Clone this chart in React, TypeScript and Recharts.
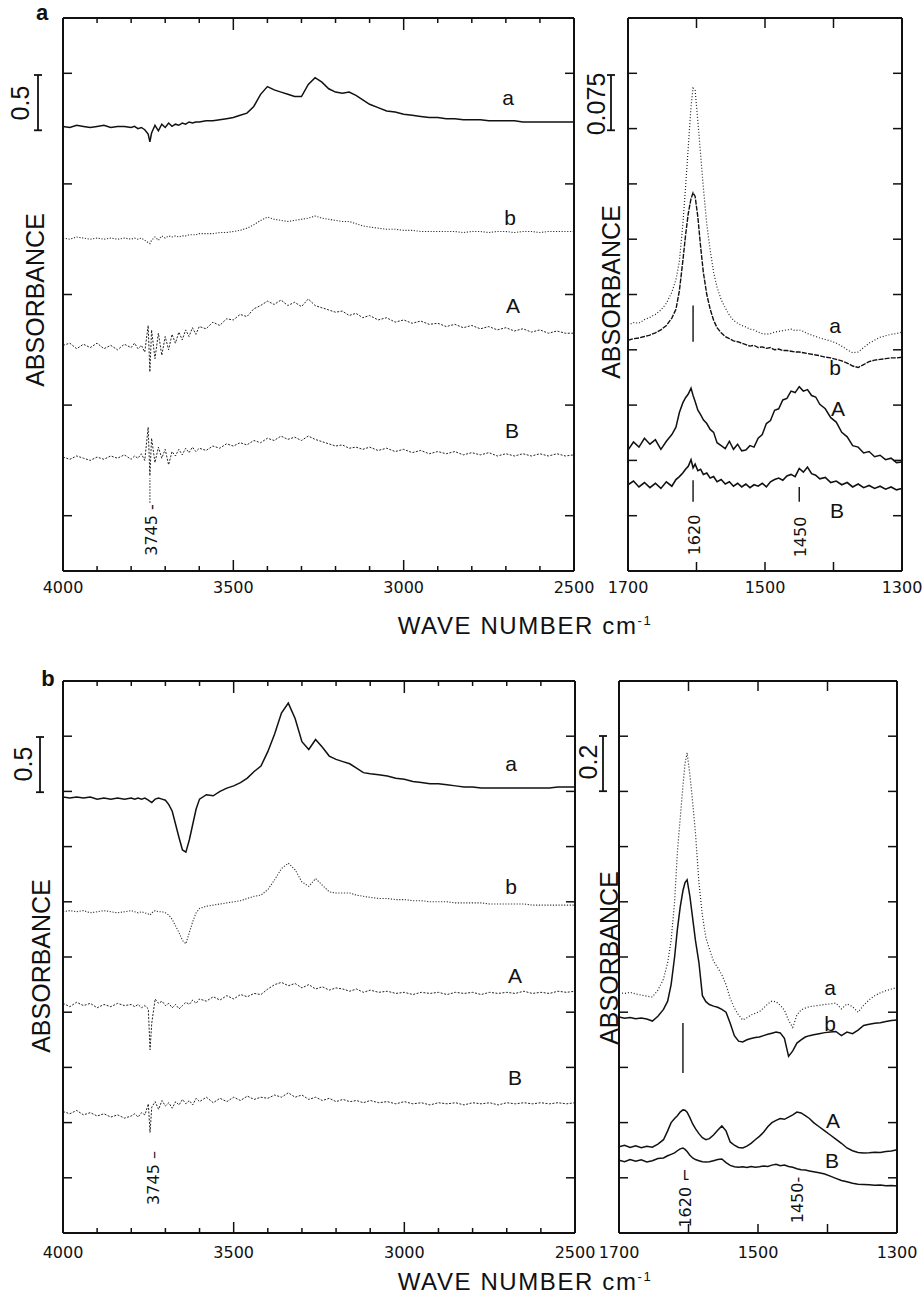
import React from 'react';
import { LineChart, Line, XAxis, YAxis, ReferenceLine } from 'recharts';

const W = 923;
const H = 1298;
const ink = '#111';

// ---- OH stretching region (4000-2500 cm-1), shared wave number grid ----
const wnOH = [
  4000, 3980, 3960, 3940, 3920, 3900, 3880, 3860, 3840, 3820,
  3800, 3790, 3780, 3770, 3760, 3750, 3745, 3740, 3730, 3720,
  3710, 3700, 3690, 3680, 3670, 3660, 3650, 3640, 3630, 3620,
  3610, 3600, 3580, 3560, 3540, 3520, 3500, 3480, 3460, 3440,
  3420, 3400, 3380, 3360, 3340, 3320, 3300, 3280, 3260, 3240,
  3220, 3200, 3180, 3160, 3140, 3120, 3100, 3075, 3050, 3025,
  3000, 2975, 2950, 2925, 2900, 2875, 2850, 2825, 2800, 2775,
  2750, 2725, 2700, 2675, 2650, 2625, 2600, 2575, 2550, 2525,
  2500,
];

// figure a, left panel (offset absorbance)
const oh1_a = [
  4.02, 4.01, 4.03, 4.02, 4.01, 4.02, 4.03, 4.01, 4.02, 4.02,
  4.01, 4.02, 4.0, 4.01, 3.99, 3.95, 3.88, 3.96, 4.03, 3.98,
  4.04, 4.01, 4.05, 4.02, 4.04, 4.03, 4.05, 4.04, 4.06, 4.05,
  4.06, 4.06, 4.07, 4.07, 4.08, 4.09, 4.1, 4.12, 4.14, 4.2,
  4.31, 4.38, 4.35, 4.33, 4.31, 4.29, 4.29, 4.4, 4.46, 4.42,
  4.36, 4.33, 4.32, 4.33, 4.3, 4.26, 4.22, 4.19, 4.16, 4.15,
  4.13, 4.12, 4.11, 4.1, 4.1, 4.09, 4.09, 4.08, 4.08, 4.08,
  4.07, 4.07, 4.07, 4.07, 4.06, 4.06, 4.06, 4.06, 4.06, 4.06,
  4.06,
];
const oh1_b = [
  3.01, 3.0, 3.02, 3.01, 3.0, 3.01, 3.0, 3.01, 3.0, 3.01,
  3.0, 3.01, 3.0, 3.01, 2.99, 2.97, 2.96, 2.99, 3.02, 2.99,
  3.03, 3.01, 3.03, 3.02, 3.03, 3.02, 3.03, 3.03, 3.04, 3.04,
  3.04, 3.05, 3.05, 3.05, 3.06, 3.06, 3.07, 3.08, 3.1, 3.13,
  3.17, 3.2, 3.18, 3.17, 3.16, 3.17, 3.18, 3.19, 3.21, 3.19,
  3.18, 3.17, 3.16, 3.16, 3.14, 3.12, 3.11, 3.1, 3.09, 3.09,
  3.08, 3.08, 3.07, 3.07, 3.07, 3.07, 3.07, 3.06, 3.07, 3.07,
  3.06, 3.07, 3.07, 3.06, 3.07, 3.07, 3.06, 3.07, 3.07, 3.07,
  3.07,
];
const oh1_A = [
  2.04, 2.06, 2.01, 2.05, 2.02, 2.06, 2.01, 2.04, 2.0, 2.05,
  2.02, 2.06, 2.01, 2.04, 1.98, 2.22, 1.8, 2.18, 1.92, 2.15,
  1.95, 2.12, 2.0, 2.14, 2.06, 2.16, 2.09, 2.18, 2.12, 2.2,
  2.14, 2.21, 2.19, 2.25, 2.22, 2.28, 2.27, 2.32, 2.3, 2.37,
  2.4, 2.44, 2.41, 2.45, 2.4, 2.43, 2.39, 2.46, 2.4, 2.38,
  2.36, 2.34, 2.35, 2.31, 2.33, 2.29, 2.31, 2.27, 2.29, 2.25,
  2.27, 2.24, 2.26, 2.23, 2.24, 2.21, 2.23, 2.2, 2.22, 2.19,
  2.21, 2.18, 2.2, 2.17, 2.19, 2.16, 2.18, 2.15, 2.17, 2.15,
  2.15,
];
const oh1_B = [
  1.03, 1.01, 1.04, 1.02, 1.0, 1.03, 1.01, 1.04, 1.02, 1.05,
  1.01, 1.04, 1.02, 1.06, 1.0, 1.3, 0.86, 1.2, 0.98, 1.12,
  1.02, 1.1, 0.96, 1.08, 1.04, 1.1, 1.05, 1.11, 1.07, 1.12,
  1.08, 1.11, 1.09, 1.13, 1.11, 1.15, 1.13, 1.16, 1.14, 1.18,
  1.16, 1.2, 1.18, 1.22, 1.19, 1.21, 1.18, 1.22, 1.19, 1.17,
  1.15, 1.13, 1.14, 1.11, 1.12, 1.1, 1.12, 1.09, 1.11, 1.08,
  1.1, 1.07, 1.09, 1.06, 1.08, 1.06, 1.08, 1.05, 1.07, 1.05,
  1.07, 1.04, 1.06, 1.04, 1.06, 1.04, 1.06, 1.04, 1.06, 1.04,
  1.05,
];

// figure b, left panel
const oh2_a = [
  3.95, 3.94, 3.95, 3.94, 3.95, 3.93, 3.94, 3.93, 3.94, 3.93,
  3.94, 3.93, 3.94, 3.93, 3.94, 3.92, 3.91, 3.9, 3.93, 3.94,
  3.93, 3.92, 3.88, 3.82, 3.7, 3.58, 3.47, 3.45, 3.56, 3.7,
  3.84, 3.93, 3.97, 3.96, 4.0, 4.03, 4.05, 4.08, 4.12, 4.18,
  4.23, 4.36, 4.52, 4.71, 4.8, 4.66, 4.45, 4.38, 4.47, 4.4,
  4.32, 4.29, 4.27, 4.25, 4.21, 4.17, 4.16, 4.15, 4.14, 4.12,
  4.11, 4.09, 4.08, 4.07, 4.07, 4.06, 4.05, 4.04, 4.04, 4.03,
  4.03, 4.03, 4.03, 4.03, 4.03, 4.03, 4.03, 4.03, 4.04, 4.04,
  4.04,
];
const oh2_b = [
  2.91, 2.92, 2.91, 2.92, 2.9, 2.91, 2.92, 2.91, 2.9, 2.91,
  2.92, 2.91, 2.9, 2.91, 2.9, 2.89, 2.88, 2.9, 2.92, 2.91,
  2.91, 2.9, 2.88, 2.84, 2.78, 2.72, 2.65, 2.62, 2.72, 2.82,
  2.9, 2.94, 2.96, 2.97, 2.98, 2.99, 3.0, 3.01, 3.03, 3.05,
  3.06, 3.11, 3.2, 3.3, 3.35, 3.29, 3.18, 3.14, 3.21, 3.15,
  3.09, 3.08, 3.08, 3.08, 3.06, 3.05, 3.04, 3.03, 3.03, 3.02,
  3.02, 3.01, 3.01, 3.0, 3.0, 3.0, 2.99, 2.99, 2.99, 2.99,
  2.98, 2.98, 2.98, 2.98, 2.98, 2.97, 2.97, 2.97, 2.97, 2.97,
  2.97,
];
const oh2_A = [
  2.08, 2.05, 2.09, 2.06, 2.08, 2.04, 2.07, 2.05, 2.08, 2.06,
  2.07, 2.05, 2.07, 2.04, 2.06, 2.03, 1.66, 1.9, 2.12, 2.08,
  2.1, 2.06, 2.08, 2.04, 2.07, 2.03, 2.06, 2.09, 2.07, 2.11,
  2.08, 2.12, 2.1, 2.14, 2.11, 2.15, 2.12, 2.16, 2.14, 2.17,
  2.16, 2.21, 2.25, 2.27, 2.24, 2.26, 2.22, 2.25, 2.21, 2.23,
  2.2, 2.22, 2.21, 2.19, 2.21, 2.18, 2.2, 2.18, 2.19, 2.17,
  2.18, 2.16, 2.18, 2.17, 2.18, 2.16, 2.18, 2.17, 2.18, 2.16,
  2.18, 2.17, 2.18, 2.17, 2.19, 2.17, 2.18, 2.17, 2.19, 2.18,
  2.19,
];
const oh2_B = [
  1.1, 1.08, 1.11, 1.07, 1.09, 1.06, 1.08, 1.05, 1.07, 1.04,
  1.06, 1.08, 1.05, 1.09, 1.07, 1.17, 0.91, 1.14, 1.19, 1.12,
  1.2, 1.15, 1.18, 1.13, 1.19, 1.16, 1.21, 1.17, 1.2, 1.16,
  1.22, 1.19, 1.23, 1.18, 1.22, 1.19, 1.23, 1.2, 1.24, 1.21,
  1.23, 1.22, 1.25, 1.23, 1.27, 1.23, 1.25, 1.21, 1.23, 1.2,
  1.22, 1.19, 1.21, 1.19, 1.2, 1.18, 1.2, 1.18, 1.19, 1.17,
  1.19, 1.17, 1.18, 1.16, 1.18, 1.17, 1.18, 1.16, 1.18, 1.17,
  1.18, 1.16, 1.18, 1.17, 1.18, 1.17, 1.18, 1.17, 1.18, 1.17,
  1.18,
];

// ---- 1700-1300 cm-1 region, shared grid ----
const wnCC = [
  1700, 1692, 1684, 1676, 1668, 1660, 1652, 1644, 1636, 1630,
  1625, 1620, 1616, 1612, 1608, 1605, 1602, 1598, 1594, 1590,
  1585, 1580, 1575, 1570, 1564, 1558, 1552, 1546, 1540, 1534,
  1528, 1522, 1516, 1510, 1504, 1498, 1492, 1486, 1480, 1474,
  1468, 1462, 1456, 1450, 1444, 1438, 1432, 1426, 1420, 1412,
  1404, 1396, 1388, 1380, 1372, 1364, 1356, 1348, 1340, 1332,
  1324, 1316, 1308, 1300,
];

const cc1_a = [
  0.333, 0.337, 0.336, 0.341, 0.344, 0.348, 0.354, 0.363, 0.378, 0.395,
  0.42, 0.47, 0.52, 0.575, 0.63, 0.655, 0.652, 0.61, 0.565, 0.52,
  0.47, 0.435, 0.405, 0.385, 0.368, 0.357, 0.347, 0.34, 0.336, 0.333,
  0.331, 0.328, 0.327, 0.324, 0.322, 0.321, 0.322, 0.324, 0.325, 0.326,
  0.327, 0.328, 0.326, 0.327, 0.325, 0.322, 0.32, 0.318, 0.316, 0.314,
  0.312, 0.309, 0.305, 0.3, 0.296, 0.297, 0.303, 0.309, 0.313, 0.317,
  0.319, 0.321, 0.322, 0.324,
];
const cc1_b = [
  0.313, 0.315, 0.316, 0.318, 0.32, 0.323, 0.327, 0.333, 0.343, 0.355,
  0.38, 0.42, 0.455, 0.485, 0.505, 0.513, 0.508, 0.48, 0.44, 0.405,
  0.375, 0.355, 0.34, 0.33, 0.323, 0.318, 0.315, 0.312, 0.311, 0.309,
  0.307, 0.305, 0.306, 0.303, 0.304, 0.302, 0.303, 0.3, 0.301, 0.299,
  0.299, 0.298, 0.297, 0.297, 0.296, 0.295, 0.294, 0.293, 0.292, 0.29,
  0.289, 0.287, 0.285, 0.282, 0.278, 0.276, 0.28, 0.284, 0.286, 0.287,
  0.288, 0.289, 0.289, 0.29,
];
const cc1_A = [
  0.164, 0.175, 0.168, 0.18, 0.172, 0.178, 0.165, 0.176, 0.185, 0.195,
  0.215, 0.228, 0.235, 0.24, 0.248, 0.238, 0.23, 0.218, 0.212, 0.205,
  0.2, 0.192, 0.188, 0.174, 0.17, 0.166, 0.176, 0.165, 0.172, 0.163,
  0.164, 0.17, 0.168, 0.18, 0.185, 0.2, 0.204, 0.218, 0.22, 0.232,
  0.234, 0.244, 0.242, 0.25, 0.244, 0.246, 0.238, 0.236, 0.226, 0.22,
  0.208, 0.202, 0.188, 0.182, 0.17, 0.168, 0.16, 0.162, 0.155, 0.157,
  0.151, 0.153, 0.147, 0.148,
];
const cc1_B = [
  0.117, 0.122, 0.114, 0.12, 0.113, 0.119, 0.112, 0.121, 0.115, 0.124,
  0.128, 0.133, 0.138, 0.142, 0.151, 0.14, 0.145, 0.136, 0.138, 0.131,
  0.133, 0.126, 0.128, 0.121, 0.124, 0.118, 0.121, 0.115, 0.119, 0.114,
  0.118, 0.113, 0.117, 0.115, 0.119, 0.114, 0.121, 0.124, 0.126, 0.123,
  0.129, 0.131, 0.128, 0.139, 0.134, 0.141, 0.132, 0.13, 0.125, 0.127,
  0.12, 0.122, 0.117, 0.12, 0.114, 0.118, 0.113, 0.116, 0.112, 0.115,
  0.111, 0.114, 0.11, 0.112,
];

const cc2_a = [
  0.87, 0.868, 0.872, 0.866, 0.862, 0.858, 0.855, 0.88, 0.92, 0.98,
  1.06, 1.2, 1.38, 1.5, 1.62, 1.7, 1.74, 1.66, 1.56, 1.45,
  1.27, 1.15, 1.07, 1.03, 0.985, 0.962, 0.935, 0.9, 0.85, 0.815,
  0.79, 0.772, 0.78, 0.79, 0.796, 0.802, 0.815, 0.83, 0.84, 0.838,
  0.825, 0.808, 0.77, 0.745, 0.79, 0.808, 0.815, 0.82, 0.822, 0.825,
  0.828, 0.83, 0.833, 0.812, 0.83, 0.82, 0.8, 0.825, 0.845, 0.86,
  0.87, 0.878, 0.884, 0.89,
];
const cc2_b = [
  0.783, 0.778, 0.781, 0.776, 0.779, 0.775, 0.768, 0.785, 0.81, 0.84,
  0.9, 1.0, 1.1, 1.18, 1.24, 1.27, 1.28, 1.22, 1.14, 1.06,
  0.98, 0.86, 0.838, 0.828, 0.822, 0.818, 0.81, 0.8, 0.76, 0.715,
  0.695, 0.692, 0.7, 0.705, 0.708, 0.71, 0.715, 0.72, 0.724, 0.728,
  0.725, 0.705, 0.64, 0.66, 0.688, 0.7, 0.71, 0.715, 0.718, 0.722,
  0.726, 0.728, 0.73, 0.715, 0.728, 0.722, 0.735, 0.752, 0.756, 0.76,
  0.762, 0.766, 0.77, 0.772,
];
const cc2_A = [
  0.312, 0.318, 0.31, 0.316, 0.309, 0.314, 0.311, 0.322, 0.338, 0.37,
  0.4, 0.415, 0.425, 0.438, 0.446, 0.445, 0.438, 0.418, 0.395, 0.378,
  0.36, 0.345, 0.338, 0.342, 0.355, 0.372, 0.388, 0.37, 0.33, 0.318,
  0.31, 0.308, 0.315, 0.325, 0.338, 0.35, 0.365, 0.385, 0.4, 0.408,
  0.415, 0.412, 0.42, 0.428, 0.438, 0.435, 0.425, 0.415, 0.4, 0.385,
  0.37, 0.355, 0.34, 0.325, 0.308, 0.298, 0.292, 0.29, 0.291, 0.293,
  0.292, 0.295, 0.297, 0.302,
];
const cc2_B = [
  0.264, 0.258, 0.266, 0.26, 0.265, 0.257, 0.262, 0.27, 0.272, 0.28,
  0.285, 0.29, 0.298, 0.305, 0.308, 0.303, 0.295, 0.282, 0.272, 0.266,
  0.262, 0.258, 0.257, 0.258, 0.262, 0.266, 0.268, 0.255, 0.245, 0.24,
  0.238, 0.24, 0.237, 0.241, 0.238, 0.24, 0.243, 0.241, 0.246, 0.249,
  0.244, 0.246, 0.241, 0.238, 0.233, 0.229, 0.228, 0.225, 0.222, 0.218,
  0.214, 0.206, 0.198, 0.19, 0.186, 0.18, 0.177, 0.176, 0.175, 0.173,
  0.174, 0.171, 0.172, 0.17,
];

// ---- axis ticks ----
const ohTicks = [4000, 3900, 3800, 3700, 3600, 3500, 3400, 3300, 3200, 3100, 3000, 2900, 2800, 2700, 2600, 2500];
const ohLabels = [4000, 3500, 3000, 2500];
const ccTicks = [1700, 1600, 1500, 1400, 1300];
const ccLabels = [1700, 1500, 1300];
const yTicksOH1 = [0.5, 1.5, 2.5, 3.5, 4.5];
const yTicksOH2 = [0.5, 1, 1.5, 2, 2.5, 3, 3.5, 4, 4.5];
const yTicksCC1 = [0.075, 0.15, 0.225, 0.3, 0.375, 0.45, 0.525, 0.6, 0.675];
const yTicksCC2 = [0.2, 0.4, 0.6, 0.8, 1.0, 1.2, 1.4, 1.6, 1.8];

const table = (wn: number[], a: number[], b: number[], A: number[], B: number[]) =>
  wn.map((w, i) => ({ wn: w, a: a[i], b: b[i], A: A[i], B: B[i] }));

type Box = { l: number; t: number; r: number; b: number };
type Trace = { key: string; dash?: string; width: number; color: string };
type Mark = { x: number; y1: number; y2: number; dash?: string };

const numFont = { fontFamily: 'DejaVu Sans, sans-serif', fontSize: 16, fill: ink };
const txtFont = 'Liberation Sans, Arial, sans-serif';

const makeXTick =
  (side: 'bottom' | 'top', majorStep: number, majorLen: number, minorLen: number, labels: number[], labelDy: number) =>
  (p: any) => {
    const v = p.payload.value as number;
    const major = Math.abs(v % majorStep) < 1e-6;
    const len = major ? majorLen : minorLen;
    const dir = side === 'bottom' ? -1 : 1;
    return (
      <g>
        <line x1={p.x} y1={p.y} x2={p.x} y2={p.y + dir * len} stroke={ink} strokeWidth={1.5} />
        {side === 'bottom' && labels.includes(v) ? (
          <text x={p.x} y={p.y + labelDy} textAnchor="middle" {...numFont}>
            {v}
          </text>
        ) : null}
      </g>
    );
  };

const makeYTick = (side: 'left' | 'right') => (p: any) => {
  const dir = side === 'left' ? 1 : -1;
  return <line x1={p.x} y1={p.y} x2={p.x + dir * 9} y2={p.y} stroke={ink} strokeWidth={1.5} />;
};

type PanelProps = {
  box: Box;
  xDomain: [number, number];
  xTicks: number[];
  xLabels: number[];
  majorStep: number;
  majorLen: number;
  minorLen: number;
  labelDy: number;
  yMax: number;
  yTicks: number[];
  rows: any[];
  traces: Trace[];
  marks: Mark[];
};

const axisLine = { stroke: ink, strokeWidth: 2 };

// axes get a 1px band so they are drawn; the plot area is the box exactly
function Panel(p: PanelProps) {
  const { box } = p;
  return (
    <div style={{ position: 'absolute', left: 0, top: 0 }}>
      <LineChart
        width={W}
        height={H}
        data={p.rows}
        margin={{ top: box.t - 1, left: box.l - 1, right: W - box.r - 1, bottom: H - box.b - 1 }}
      >
        <XAxis
          xAxisId="x"
          type="number"
          dataKey="wn"
          domain={p.xDomain}
          reversed
          allowDataOverflow
          ticks={p.xTicks}
          interval={0}
          height={1}
          tickSize={0}
          tickMargin={0}
          tickLine={false}
          axisLine={axisLine}
          tick={makeXTick('bottom', p.majorStep, p.majorLen, p.minorLen, p.xLabels, p.labelDy)}
        />
        <XAxis
          xAxisId="xt"
          orientation="top"
          type="number"
          dataKey="wn"
          domain={p.xDomain}
          reversed
          allowDataOverflow
          ticks={p.xTicks}
          interval={0}
          height={1}
          tickSize={0}
          tickMargin={0}
          tickLine={false}
          axisLine={axisLine}
          tick={makeXTick('top', p.majorStep, p.majorLen + 1, p.minorLen, [], 0)}
        />
        <YAxis
          yAxisId="y"
          type="number"
          domain={[0, p.yMax]}
          allowDataOverflow
          ticks={p.yTicks}
          interval={0}
          width={1}
          tickSize={0}
          tickMargin={0}
          tickLine={false}
          axisLine={axisLine}
          tick={makeYTick('left')}
        />
        <YAxis
          yAxisId="yr"
          orientation="right"
          type="number"
          domain={[0, p.yMax]}
          allowDataOverflow
          ticks={p.yTicks}
          interval={0}
          width={1}
          tickSize={0}
          tickMargin={0}
          tickLine={false}
          axisLine={axisLine}
          tick={makeYTick('right')}
        />
        {p.traces.map((t) => (
          <Line
            key={t.key}
            xAxisId="x"
            yAxisId="y"
            type="linear"
            dataKey={t.key}
            stroke={t.color}
            strokeWidth={t.width}
            strokeDasharray={t.dash}
            dot={false}
            activeDot={false}
            isAnimationActive={false}
          />
        ))}
        {p.marks.map((m, i) => (
          <ReferenceLine
            key={i}
            xAxisId="x"
            yAxisId="y"
            segment={[
              { x: m.x, y: m.y1 },
              { x: m.x, y: m.y2 },
            ]}
            stroke={ink}
            strokeWidth={1.4}
            strokeDasharray={m.dash}
          />
        ))}
      </LineChart>
    </div>
  );
}

const boxOH1: Box = { l: 63, t: 18, r: 574, b: 571 };
const boxCC1: Box = { l: 628, t: 18, r: 902, b: 571 };
const boxOH2: Box = { l: 63, t: 681, r: 575, b: 1233 };
const boxCC2: Box = { l: 619, t: 681, r: 897, b: 1233 };

const VText = ({ x, y, size, font, children }: { x: number; y: number; size: number; font: string; children: React.ReactNode }) => (
  <text
    transform={`translate(${x},${y}) rotate(-90)`}
    textAnchor="middle"
    dominantBaseline="central"
    fontSize={size}
    fontFamily={font}
    fill={ink}
  >
    {children}
  </text>
);

const ScaleBar = ({ x, top, value, yMax, box }: { x: number; top: number; value: number; yMax: number; box: Box }) => {
  const len = (value / yMax) * (box.b - box.t);
  return (
    <g stroke={ink} strokeWidth={1.8}>
      <line x1={x} y1={top} x2={x} y2={top + len} />
      <line x1={x - 4} y1={top} x2={x + 4} y2={top} />
      <line x1={x - 4} y1={top + len} x2={x + 4} y2={top + len} />
    </g>
  );
};

const Lbl = ({ x, y, t }: { x: number; y: number; t: string }) => (
  <text x={x} y={y} textAnchor="middle" dominantBaseline="central" fontSize={21} fontFamily={txtFont} fill={ink}>
    {t}
  </text>
);

const AxisTitle = ({ y }: { y: number }) => (
  <text x={525} y={y} textAnchor="middle" fontSize={24} fontFamily={txtFont} fill={ink} letterSpacing={1.6}>
    WAVE NUMBER cm
    <tspan dy={-9} fontSize={13}>
      -1
    </tspan>
  </text>
);

export default function App() {
  const styleOH: Trace[] = [
    { key: 'a', width: 1.5, color: ink },
    { key: 'b', width: 1.1, color: '#333', dash: '1.2 1.6' },
    { key: 'A', width: 1.0, color: '#222', dash: '2 1.5' },
    { key: 'B', width: 1.0, color: '#222', dash: '2 1.5' },
  ];
  const styleCC1: Trace[] = [
    { key: 'a', width: 1.2, color: '#222', dash: '1 2' },
    { key: 'b', width: 1.4, color: ink, dash: '5 1.2' },
    { key: 'A', width: 1.5, color: ink },
    { key: 'B', width: 1.6, color: ink },
  ];
  const styleCC2: Trace[] = [
    { key: 'a', width: 1.2, color: '#222', dash: '1 2' },
    { key: 'b', width: 1.5, color: ink },
    { key: 'A', width: 1.5, color: ink },
    { key: 'B', width: 1.5, color: ink },
  ];

  return (
    <div style={{ position: 'absolute', left: 0, top: 0, width: W, height: H, background: '#fff', overflow: 'hidden' }}>
      <Panel
        box={boxOH1}
        xDomain={[2500, 4000]}
        xTicks={ohTicks}
        xLabels={ohLabels}
        majorStep={500}
        majorLen={11}
        minorLen={5}
        labelDy={22}
        yMax={5}
        yTicks={yTicksOH1}
        rows={table(wnOH, oh1_a, oh1_b, oh1_A, oh1_B)}
        traces={styleOH}
        marks={[{ x: 3745, y1: 0.62, y2: 0.84, dash: '1 2' }]}
      />
      <Panel
        box={boxCC1}
        xDomain={[1300, 1700]}
        xTicks={ccTicks}
        xLabels={ccLabels}
        majorStep={100}
        majorLen={9}
        minorLen={9}
        labelDy={22}
        yMax={0.75}
        yTicks={yTicksCC1}
        rows={table(wnCC, cc1_a, cc1_b, cc1_A, cc1_B)}
        traces={styleCC1}
        marks={[
          { x: 1605, y1: 0.311, y2: 0.36 },
          { x: 1605, y1: 0.094, y2: 0.123 },
          { x: 1450, y1: 0.094, y2: 0.114 },
        ]}
      />
      <Panel
        box={boxOH2}
        xDomain={[2500, 4000]}
        xTicks={ohTicks}
        xLabels={ohLabels}
        majorStep={500}
        majorLen={11}
        minorLen={5}
        labelDy={25}
        yMax={5}
        yTicks={yTicksOH2}
        rows={table(wnOH, oh2_a, oh2_b, oh2_A, oh2_B)}
        traces={styleOH}
        marks={[]}
      />
      <Panel
        box={boxCC2}
        xDomain={[1300, 1700]}
        xTicks={ccTicks}
        xLabels={ccLabels}
        majorStep={100}
        majorLen={9}
        minorLen={9}
        labelDy={25}
        yMax={2}
        yTicks={yTicksCC2}
        rows={table(wnCC, cc2_a, cc2_b, cc2_A, cc2_B)}
        traces={styleCC2}
        marks={[{ x: 1608, y1: 0.58, y2: 0.761 }]}
      />

      <svg width={W} height={H} style={{ position: 'absolute', left: 0, top: 0, pointerEvents: 'none' }}>
        {/* figure letters */}
        <text x={42} y={20} textAnchor="middle" fontSize={22} fontWeight="bold" fontFamily={txtFont} fill={ink}>
          a
        </text>
        <text x={48} y={686} textAnchor="middle" fontSize={22} fontWeight="bold" fontFamily={txtFont} fill={ink}>
          b
        </text>

        {/* scale bars */}
        <ScaleBar x={38} top={75} value={0.5} yMax={5} box={boxOH1} />
        <VText x={20} y={103} size={25} font={txtFont}>0.5</VText>
        <ScaleBar x={611} top={75} value={0.075} yMax={0.75} box={boxCC1} />
        <VText x={596} y={104} size={25} font={txtFont}>0.075</VText>
        <ScaleBar x={40} top={737} value={0.5} yMax={5} box={boxOH2} />
        <VText x={23} y={764} size={25} font={txtFont}>0.5</VText>
        <ScaleBar x={603} top={736} value={0.2} yMax={2} box={boxCC2} />
        <VText x={588} y={762} size={25} font={txtFont}>0.2</VText>

        {/* y titles */}
        <VText x={35} y={300} size={25} font={txtFont}>ABSORBANCE</VText>
        <VText x={611} y={292} size={25} font={txtFont}>ABSORBANCE</VText>
        <VText x={41} y={966} size={25} font={txtFont}>ABSORBANCE</VText>
        <VText x={609} y={958} size={25} font={txtFont}>ABSORBANCE</VText>

        {/* trace labels */}
        <Lbl x={508} y={97} t="a" />
        <Lbl x={510} y={217} t="b" />
        <Lbl x={513} y={305} t="A" />
        <Lbl x={512} y={430} t="B" />
        <Lbl x={835} y={325} t="a" />
        <Lbl x={835} y={367} t="b" />
        <Lbl x={838} y={408} t="A" />
        <Lbl x={837} y={510} t="B" />
        <Lbl x={511} y={763} t="a" />
        <Lbl x={511} y={886} t="b" />
        <Lbl x={515} y={975} t="A" />
        <Lbl x={515} y={1077} t="B" />
        <Lbl x={830} y={987} t="a" />
        <Lbl x={830} y={1023} t="b" />
        <Lbl x={833} y={1120} t="A" />
        <Lbl x={832} y={1160} t="B" />

        {/* band annotations */}
        <VText x={151} y={530} size={16} font="DejaVu Sans, sans-serif">3745 -</VText>
        <VText x={153} y={1178} size={16} font="DejaVu Sans, sans-serif">3745 –</VText>
        <VText x={694} y={535} size={16} font="DejaVu Sans, sans-serif">1620</VText>
        <VText x={800} y={537} size={16} font="DejaVu Sans, sans-serif">1450</VText>
        <VText x={685} y={1198} size={16} font="DejaVu Sans, sans-serif">1620 ⌐</VText>
        <VText x={797} y={1200} size={16} font="DejaVu Sans, sans-serif">1450-</VText>

        <AxisTitle y={634} />
        <AxisTitle y={1290} />
      </svg>
    </div>
  );
}
